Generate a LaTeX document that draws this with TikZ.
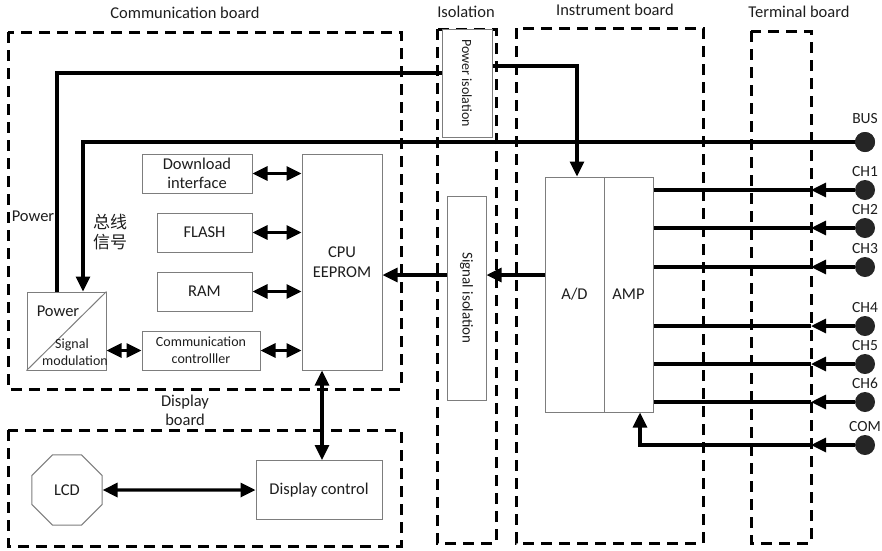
\documentclass[tikz,border=0pt]{standalone}
\usepackage{fontspec}
\setmainfont{Carlito}
\newfontfamily\cjk{Noto Sans CJK SC}
\usetikzlibrary{arrows.meta,shapes.geometric}
\definecolor{boxgray}{RGB}{125,125,125}
\definecolor{txtgray}{RGB}{30,30,30}
\tikzset{blok/.style = {draw = boxgray, line width = 1pt, fill = white, inner sep = 0pt,
                        align = center, text = txtgray, font = \fontsize{16.5}{19.5}\selectfont},
         petit/.style = {font = \fontsize{14}{16}\selectfont, text = txtgray, inner sep = 0pt},
         titre/.style = {font = \fontsize{16.5}{19}\selectfont, text = txtgray, inner sep = 0pt, align = center},
         carte/.style = {draw = black, line width = 3pt, dash pattern = on 11pt off 7pt},
         fil/.style = {draw = black, line width = 3.2pt},
         borne/.style = {circle, fill = black!85, minimum size = 20pt, inner sep = 0pt},
         pointe/.tip = {Triangle[length = 15pt, width = 14pt]}
        }

\begin{document}
\begin{tikzpicture}[x = 1pt, y = -1pt]
  \useasboundingbox (0,0) rectangle (882,550);
  \draw[carte] (8,32) rectangle (401,389);
  \draw[carte] (8,430) rectangle (401,546);
  \draw[carte] (437,29) rectangle (496,543);
  \draw[carte] (516,28) rectangle (703,543);
  \draw[carte] (751,31) rectangle (811,543);
  \node[titre] (tcomm) at (185,13) {Communication board};
  \node[titre] (tiso)  at (466,12) {Isolation};
  \node[titre] (tinst) at (615,10) {Instrument board};
  \node[titre] (tterm) at (799,12) {Terminal board};
  \node[titre] (tdisp) at (185,410) {Display\\board};
  \node[blok, minimum width = 110, minimum height = 39] (download) at (197,173.5) {Download\\interface};
  \node[blok, minimum width = 95, minimum height = 39] (flash) at (204.5,232.5) {FLASH};
  \node[blok, minimum width = 95, minimum height = 39] (ram) at (204.5,291.5) {RAM};
  \node[blok, minimum width = 118, minimum height = 39,
        font = \fontsize{14}{17}\selectfont] (commctrl) at (201,350.5) {Communication\\controlller};
  \node[blok, minimum width = 80, minimum height = 216] (cpu) at (342,262) {CPU\\EEPROM};
  \node[blok, minimum width = 79, minimum height = 78] (pwrmod) at (66.5,331) {};
  \draw[boxgray, line width = 1pt] (pwrmod.south west) -- (pwrmod.north east);
  \node[titre] (pwrtxt) at (58,311) {Power};
  \node[petit] (sigtxt) at (72,345) {Signal};
  \node[petit] (modtxt) at (75,361) {modulation};
  \node[titre] (pwrlbl) at (33,216) {Power};
  \node[titre, font = \cjk\fontsize{17}{20}\selectfont] (buslbl) at (110,232) {总线\\信号};
  \node[blok, minimum width = 50, minimum height = 108] (pwriso) at (467,83) {};
  \node[petit, rotate = -90] (pwrisotxt) at (pwriso) {Power isolation};
  \node[blok, minimum width = 39, minimum height = 204] (sigiso) at (466.5,298) {};
  \node[petit, rotate = -90, font = \fontsize{15}{16}\selectfont] (sigisotxt) at (sigiso) {Signal isolation};
  \node[blok, minimum width = 59, minimum height = 235] (ad) at (574.5,294.5) {A/D};
  \node[blok, minimum width = 49, minimum height = 235] (amp) at (628.5,294.5) {AMP};
  \node[blok, regular polygon, regular polygon sides = 8, minimum size = 76] (lcd) at (67,490) {LCD};
  \node[blok, minimum width = 126, minimum height = 59] (dispctl) at (319,490) {Display control};
  \node[borne, label = {[titre, font = \fontsize{15.5}{17}\selectfont, label distance = 8pt]above:BUS}] (bus) at (865,142) {};
  \foreach \n/\y in {CH1/190, CH2/228, CH3/267, CH4/326, CH5/364, CH6/402, COM/445}
   {
    \node[borne, label = {[titre, font = \fontsize{15.5}{17}\selectfont, label distance = 3pt]above:\n}] (\n) at (865,\y) {};
    \coordinate (t\n) at (811,\y);
   }
  \coordinate (sig) at (0,275);
  \draw[fil] ([xshift = -9.5pt]pwrmod.north) |- ([yshift = 10pt]pwriso.west);
  \draw[fil, -pointe] ([yshift = 17pt]pwriso.east) -| ([xshift = 2.5pt]ad.north);
  \draw[fil, -pointe] (bus.center) -| ([xshift = 16.5pt]pwrmod.north);
  \node[borne] (busdot) at (bus) {};
  \foreach \n in {CH1, CH2, CH3, CH4, CH5, CH6}
   {
    \draw[fil, -pointe] (\n) -- (t\n);
    \draw[fil] (t\n) -- (amp.east |- t\n);
   }
  \draw[fil, -pointe] (COM) -- (tCOM);
  \draw[fil, -pointe] (tCOM) -| ([xshift = 11.5pt]amp.south);
  \draw[fil, -pointe] (ad.west |- sig) -- (sigiso.east |- sig);
  \draw[fil, -pointe] (sigiso.west |- sig) -- (cpu.east |- sig);
  \draw[fil, pointe-pointe] (download.east) -- (download.east -| cpu.west);
  \draw[fil, pointe-pointe] (flash.east) -- (flash.east -| cpu.west);
  \draw[fil, pointe-pointe] (ram.east) -- (ram.east -| cpu.west);
  \draw[fil, pointe-pointe] (commctrl.east) -- (commctrl.east -| cpu.west);
  \draw[fil, pointe-pointe] (commctrl.west) -- (commctrl.west -| pwrmod.east);
  \draw[fil, pointe-pointe] ([xshift = -20pt]cpu.south) -- ([xshift = -20pt]cpu.south |- dispctl.north);
  \draw[fil, pointe-pointe] (lcd.east) -- (dispctl.west);
\end{tikzpicture}
\end{document}
